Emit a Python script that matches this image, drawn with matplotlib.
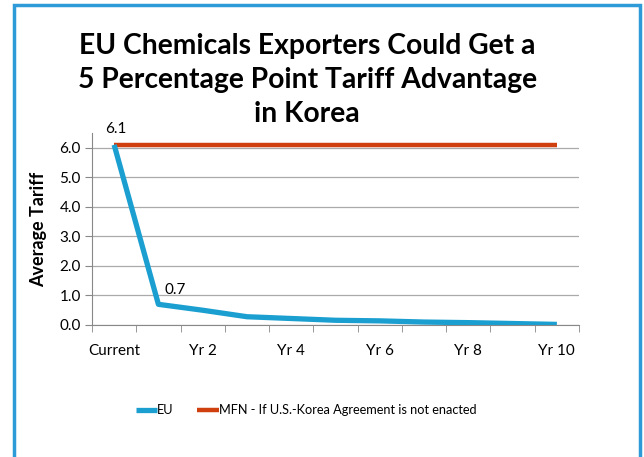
import matplotlib.pyplot as plt
import numpy as np
from matplotlib.patches import Rectangle

# data
categories = ['Current', 'Yr 1', 'Yr 2', 'Yr 3', 'Yr 4', 'Yr 5',
              'Yr 6', 'Yr 7', 'Yr 8', 'Yr 9', 'Yr 10']
eu = [6.1, 0.7, 0.5, 0.28, 0.22, 0.16, 0.14, 0.1, 0.08, 0.05, 0.02]
mfn = [6.1] * 11
yticks = [0, 1, 2, 3, 4, 5, 6]
title_lines = ['EU Chemicals Exporters Could Get a',
               '5 Percentage Point Tariff Advantage',
               'in Korea']

plt.rcParams['font.family'] = ['Lato', 'DejaVu Sans']

fig = plt.figure(figsize=(6.44, 4.57), dpi=100)
ax = fig.add_axes([92/644, 1-325/457, (579-92)/644, (325-133)/457])

x = np.arange(len(categories))
eu_c = '#1a9fd0'
mfn_c = '#d0400f'
ax.plot(x, mfn, color=mfn_c, linewidth=3.2, solid_capstyle='butt', label='MFN - If U.S.-Korea Agreement is not enacted', zorder=3)
ax.plot(x, eu, color=eu_c, linewidth=3.8, solid_capstyle='butt', label='EU', zorder=4)

#data labels
ax.annotate('6.1', (x[0], eu[0]), xytext=(1, 6), textcoords='offset points',
            ha='center', va='bottom', fontsize=11)
ax.annotate('0.7', (x[1], eu[1]), xytext=(12, 5), textcoords='offset points',
            ha='center', va='bottom', fontsize=11)

ax.set_xlim(-0.5, len(categories) - 0.5)
ax.set_ylim(0, 6.5)
ax.set_yticks(yticks)
ax.set_yticklabels(['%.1f' % v for v in yticks], fontsize=11)
ax.set_xticks(x[::2])
ax.set_xticklabels(categories[::2], fontsize=11)
ax.set_xticks(np.arange(-0.5, len(categories)), minor=True)
ax.tick_params(axis='x', which='major', length=0, pad=14)
ax.tick_params(axis='x', which='minor', length=5, color='#888888', direction='out')
ax.tick_params(axis='y', length=5, color='#888888', pad=3)
ax.grid(axis='y', color='#aaaaaa', linewidth=0.9)
for s in ['top', 'right']:
    ax.spines[s].set_visible(False)
ax.spines['left'].set_color('#888888')
ax.spines['bottom'].set_color('#888888')

ax.set_ylabel('Average Tariff', fontsize=13, fontweight='bold', labelpad=9)

#title, one text per line
for i, line in enumerate(title_lines):
    fig.text(0.477, 1-(46 + 34*i)/457, line, ha='center', va='center',
             fontsize=20.3, fontweight='bold')

h, l = ax.get_legend_handles_labels()
fig.legend(h[::-1], l[::-1], loc='center', bbox_to_anchor=(0.475, 1-410/457), ncol=2,
           frameon=False, fontsize=9.2, handlelength=1.7, handletextpad=0.0, columnspacing=1.8)

fig.patches.append(Rectangle((14/644, -0.1), (640-14)/644, 1.1-5/457, transform=fig.transFigure,
                             fill=False, edgecolor='#2e9bd8', linewidth=2.5))

fig.savefig('out.png', dpi=100)
